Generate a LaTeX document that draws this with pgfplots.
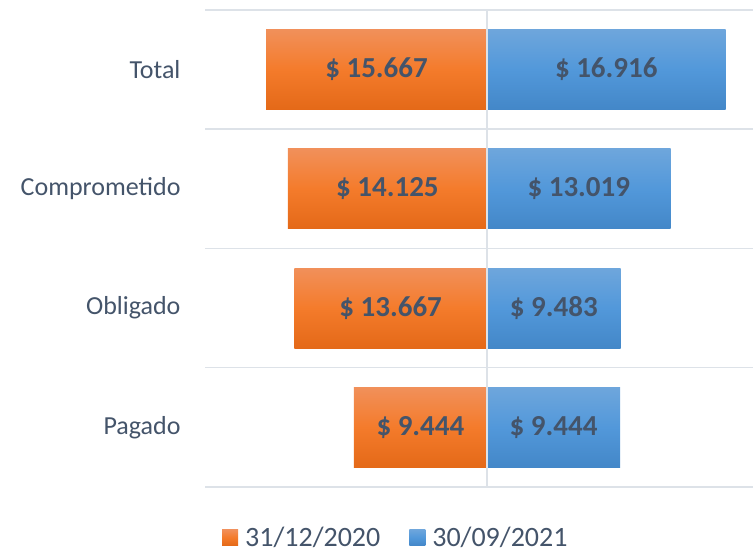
\documentclass[border=0pt]{standalone}
\usepackage{pgfplots}
\pgfplotsset{compat=1.18}
\usepackage{pgfplotstable}
\usepackage{fontspec}
\setmainfont{Carlito}
\definecolor{txt}{HTML}{44546A}
\definecolor{gridc}{HTML}{DDE2E8}
\definecolor{otop}{HTML}{F1905A}
\definecolor{omid}{HTML}{F47B2B}
\definecolor{obot}{HTML}{E46918}
\definecolor{btop}{HTML}{6EA6DC}
\definecolor{bmid}{HTML}{5298DA}
\definecolor{bbot}{HTML}{4387C8}
\pgfplotstableread{
pos a b la lb
0 9444 9444 9.444 9.444
1 13667 9483 13.667 9.483
2 14125 13019 14.125 13.019
3 15667 16916 15.667 16.916
}\data
\begin{document}
\begin{tikzpicture}
\useasboundingbox (0,0) rectangle (753bp,553bp);
\begin{axis}[
 at={(205bp,66bp)}, anchor=south west,
 scale only axis, width=548bp, height=477bp,
 xmin=-20000, xmax=18865, ymin=-0.5, ymax=3.5,
 scaled x ticks=false,
 axis line style={draw=none}, major tick length=0pt, minor tick length=0pt,
 xtick={0}, xticklabels={}, xmajorgrids,
 ytick={0,1,2,3}, yticklabels={Pagado,Obligado,Comprometido,Total},
 minor ytick={-0.5,0.5,1.5,2.5,3.5}, yminorgrids,
 grid style={draw=gridc, line width=1.5bp},
 minor grid style={draw=gridc, line width=1.5bp},
 yticklabel style={font=\fontsize{26bp}{30bp}\selectfont, text=txt, anchor=east, xshift=-21bp},
 axis on top,
 clip=false,
 legend columns=2,
 legend style={at={(0.031,-0.106)}, anchor=west, draw=none, fill=none,
   font=\fontsize{28bp}{30bp}\selectfont, text=txt, inner sep=0pt,
   nodes={inner sep=1bp},
   /tikz/every odd column/.append style={column sep=6bp},
   /tikz/every even column/.append style={column sep=28bp}},
 legend image code/.code={\path[#1, draw=none] (0bp,-8bp) rectangle (16bp,8bp);},
]
\pgfplotsinvokeforeach{0,...,3}{
\addplot[forget plot, xbar, bar width=0.672, bar shift=0pt, draw=none, top color=otop, bottom color=obot, middle color=omid]
  table[x expr=-\thisrow{a}, y=pos, restrict expr to domain={\coordindex}{#1:#1}]{\data};
\addplot[forget plot, xbar, bar width=0.672, bar shift=0pt, draw=none, top color=btop, bottom color=bbot, middle color=bmid]
  table[x=b, y=pos, restrict expr to domain={\coordindex}{#1:#1}]{\data};
}
\addlegendimage{top color=otop, bottom color=obot, middle color=omid}
\addlegendentry{31/12/2020}
\addlegendimage{top color=btop, bottom color=bbot, middle color=bmid}
\addlegendentry{30/09/2021}
\addplot[forget plot, only marks, mark=*, mark size=0pt, mark options={draw=none,fill=none},
  nodes near coords={\$ \pgfplotspointmeta}, point meta=explicit symbolic,
  nodes near coords style={anchor=center, font=\bfseries\fontsize{29bp}{30bp}\selectfont, text=txt}]
  table[x expr=-\thisrow{a}/2, y=pos, meta=la]{\data};
\addplot[forget plot, only marks, mark=*, mark size=0pt, mark options={draw=none,fill=none},
  nodes near coords={\$ \pgfplotspointmeta}, point meta=explicit symbolic,
  nodes near coords style={anchor=center, font=\bfseries\fontsize{29bp}{30bp}\selectfont, text=txt}]
  table[x expr=\thisrow{b}/2, y=pos, meta=lb]{\data};
\end{axis}
\end{tikzpicture}
\end{document}
